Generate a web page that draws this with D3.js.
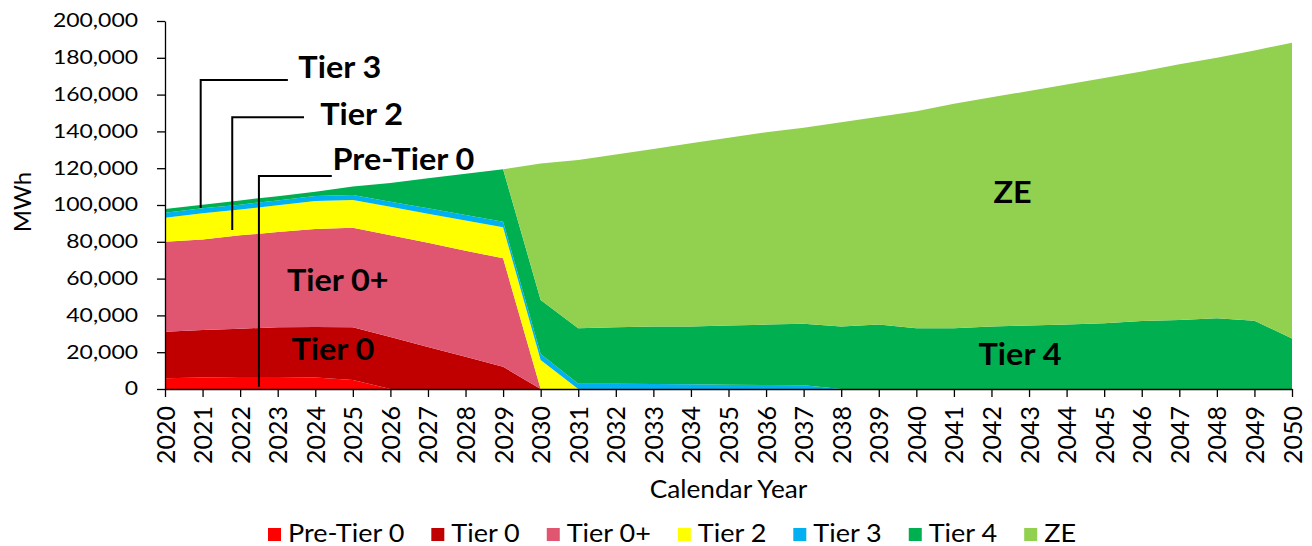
<!DOCTYPE html>
<html>
<head>
<meta charset="utf-8">
<script src="https://cdn.jsdelivr.net/npm/d3@7"></script>
<style>
  body { margin: 0; background: #fff; }
  text { font-family: Lato, "Open Sans", sans-serif; fill: #000; }
  .domain, .tick line { stroke: #000; stroke-width: 1.3; }
</style>
</head>
<body>
<script>
// Data
var years = [2020, 2021, 2022, 2023, 2024, 2025, 2026, 2027, 2028, 2029, 2030,
  2031, 2032, 2033, 2034, 2035, 2036, 2037, 2038, 2039, 2040,
  2041, 2042, 2043, 2044, 2045, 2046, 2047, 2048, 2049, 2050];

var preTier0 = [5800, 6300, 6500, 6500, 6300, 4900, 0, 0, 0, 0, 0,
  0, 0, 0, 0, 0, 0, 0, 0, 0, 0, 0, 0, 0, 0, 0, 0, 0, 0, 0, 0];
var tier0 = [25300, 25700, 26300, 27000, 27400, 28600, 28200, 22800, 17500, 12100, 0,
  0, 0, 0, 0, 0, 0, 0, 0, 0, 0, 0, 0, 0, 0, 0, 0, 0, 0, 0, 0];
var tier0Plus = [48900, 49300, 50700, 51800, 53300, 54200, 55300, 56700, 57700, 58900, 0,
  0, 0, 0, 0, 0, 0, 0, 0, 0, 0, 0, 0, 0, 0, 0, 0, 0, 0, 0, 0];
var tier2 = [13100, 14200, 14000, 14500, 15200, 15000, 15500, 15800, 16400, 16900, 15800,
  0, 0, 0, 0, 0, 0, 0, 0, 0, 0, 0, 0, 0, 0, 0, 0, 0, 0, 0, 0];
var tier3 = [2700, 2700, 2700, 2700, 2700, 2700, 2800, 2900, 2900, 3000, 3200,
  2900, 2800, 2700, 2600, 2300, 2200, 2000, 0, 0, 0, 0, 0, 0, 0, 0, 0, 0, 0, 0, 0];
var tier4 = [2000, 2000, 2300, 2300, 2300, 4600, 10200, 16300, 22500, 28500, 29400,
  30100, 30700, 31300, 31400, 32200, 32800, 33500, 34000, 35000, 33000,
  33000, 34000, 34500, 35000, 35700, 37000, 37500, 38400, 37100, 27500];
var ze = [0, 0, 0, 0, 0, 0, 0, 0, 0, 0, 74100,
  91500, 94000, 96500, 99500, 102000, 104500, 106500, 111000, 113000, 118000,
  122000, 124500, 127500, 130500, 133300, 135500, 139000, 141600, 146900, 160700];

var seriesNames = ["Pre-Tier 0", "Tier 0", "Tier 0+", "Tier 2", "Tier 3", "Tier 4", "ZE"];
var seriesValues = [preTier0, tier0, tier0Plus, tier2, tier3, tier4, ze];
var colors = ["#ff0000", "#c00000", "#e0556f", "#ffff00", "#00b0f0", "#00b050", "#92d050"];
var yTicks = [0, 20000, 40000, 60000, 80000, 100000, 120000, 140000, 160000, 180000, 200000];

// in-chart labels: [text, centre year, baseline value]
var areaLabels = [
  ["Tier 0+", 2024.6, 53400],
  ["Tier 0", 2024.47, 15800],
  ["ZE", 2042.56, 100900],
  ["Tier 4", 2042.76, 13000]
];
// callouts: [text, vertical line year, bottom value, elbow value, line end year, text year, text baseline value]
var callouts = [
  ["Tier 3", 2020.95, 98400, 167900, 2023.27, 2023.55, 168900],
  ["Tier 2", 2021.79, 86400, 147700, 2023.7, 2024.13, 143500],
  ["Pre-Tier 0", 2022.5, 1250, 115800, 2024.44, 2024.46, 119000]
];

var width = 1312, height = 546;
var margin = { left: 165, right: 20, top: 21, bottom: 157 };

var svg = d3.select("body").append("svg")
  .attr("width", width)
  .attr("height", height);

var x = d3.scaleLinear()
  .domain([2020, 2050])
  .range([margin.left, width - margin.right]);
var y = d3.scaleLinear()
  .domain([0, 200000])
  .range([height - margin.bottom, margin.top]);

// stretch text horizontally like the source image
function stretch(sel, k) {
  sel.each(function () {
    var w = this.getComputedTextLength();
    d3.select(this).attr("textLength", w * k).attr("lengthAdjust", "spacingAndGlyphs");
  });
}

// Stacked areas
var table = years.map(function (yr, i) {
  var row = { year: yr };
  seriesNames.forEach(function (n, j) { row[n] = seriesValues[j][i]; });
  return row;
});
var stacked = d3.stack().keys(seriesNames)(table);

var area = d3.area()
  .x(function (d) { return x(d.data.year); })
  .y0(function (d) { return y(d[0]); })
  .y1(function (d) { return y(d[1]); });

svg.append("g")
  .selectAll("path")
  .data(stacked)
  .enter().append("path")
  .attr("d", area)
  .attr("fill", function (d, i) { return colors[i]; });

// Axes
var yAxis = svg.append("g")
  .attr("transform", "translate(" + margin.left + ",0)")
  .call(d3.axisLeft(y).tickValues(yTicks).tickSize(8).tickSizeOuter(0)
    .tickPadding(19).tickFormat(d3.format(",")));
yAxis.selectAll("text")
  .attr("font-size", "18.5px")
  .attr("font-family", "Lato")
  .call(stretch, 1.24);

var xAxis = svg.append("g")
  .attr("transform", "translate(0," + y(0) + ")")
  .call(d3.axisBottom(x).tickValues(years).tickSize(8).tickSizeOuter(0).tickFormat(d3.format("d")));
xAxis.selectAll("text")
  .attr("font-size", "25px")
  .attr("font-family", "Lato")
  .attr("y", 0)
  .attr("x", -17)
  .attr("dy", "0.36em")
  .attr("transform", "rotate(-90)")
  .style("text-anchor", "end");

// Axis titles
svg.append("text")
  .attr("transform", "translate(31,202) rotate(-90)")
  .attr("text-anchor", "middle")
  .attr("font-size", "24px")
  .text("MWh");

svg.append("text")
  .attr("x", x(2035))
  .attr("y", 498)
  .attr("text-anchor", "middle")
  .attr("font-size", "25px")
  .text("Calendar Year")
  .call(stretch, 1.05);

// Callouts
callouts.forEach(function (c) {
  svg.append("path")
    .attr("d", d3.line()([[x(c[1]), y(c[2])], [x(c[1]), y(c[3])], [x(c[4]), y(c[3])]]))
    .attr("fill", "none")
    .attr("stroke", "#000")
    .attr("stroke-width", 2);
  svg.append("text")
    .attr("x", x(c[5]))
    .attr("y", y(c[6]))
    .attr("font-size", "30px")
    .attr("font-weight", "bold")
    .text(c[0])
    .call(stretch, 1.08);
});

svg.selectAll(".area-label")
  .data(areaLabels)
  .enter().append("text")
  .attr("class", "area-label")
  .attr("x", function (d) { return x(d[1]); })
  .attr("y", function (d) { return y(d[2]); })
  .attr("text-anchor", "middle")
  .attr("font-size", "30px")
  .attr("font-weight", "bold")
  .text(function (d) { return d[0]; })
  .call(stretch, 1.08);

// Legend
var legend = svg.append("g").attr("class", "legend");
var lx = 268;
seriesNames.forEach(function (n, i) {
  legend.append("rect")
    .attr("x", lx).attr("y", 528)
    .attr("width", 13).attr("height", 13)
    .attr("fill", colors[i]);
  var t = legend.append("text")
    .attr("x", lx + 20).attr("y", 542)
    .attr("font-size", "25px")
    .text(n)
    .call(stretch, 1.08);
  lx += 20 + (+t.attr("textLength")) + 27;
});
</script>
</body>
</html>
